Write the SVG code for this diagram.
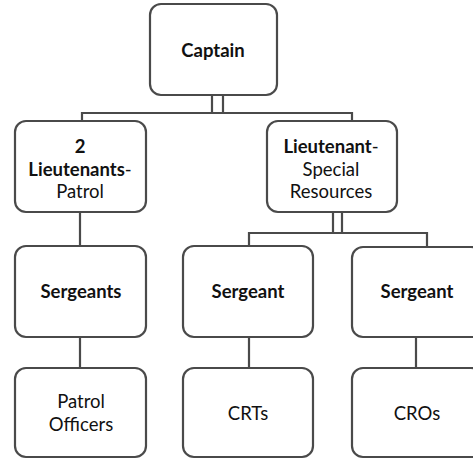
<svg xmlns="http://www.w3.org/2000/svg" width="473" height="460" viewBox="0 0 473 460">
<style>
.box{fill:#fff;stroke:#4a4a4a;stroke-width:2.2}
.ln{fill:none;stroke:#4a4a4a;stroke-width:2.2}
text{font-family:Lato,"Open Sans","Liberation Sans",sans-serif;font-size:18.5px;fill:#111;text-anchor:middle}
.b{font-weight:bold}
</style>
<rect width="473" height="460" fill="#fff"/>
<g id="connectors">
<path class="ln" d="M212,95V113M223,95V113"/>
<path class="ln" d="M82,121V113H352V121"/>
<path class="ln" d="M80,212V245M80,337V368"/>
<path class="ln" d="M333,212V233M342,212V233"/>
<path class="ln" d="M249,245V233H427V246"/>
<path class="ln" d="M249,337V368M416,337V368"/>
</g>
<g id="captain">
<rect class="box" x="150" y="4" width="127" height="91" rx="11"/>
<text class="b" x="213" y="57">Captain</text>
</g>
<g id="lt-patrol">
<rect class="box" x="15" y="121" width="131" height="91" rx="11"/>
<text class="b" x="80" y="153">2</text>
<text x="80" y="176"><tspan class="b">Lieutenants</tspan>-</text>
<text x="80" y="198">Patrol</text>
</g>
<g id="lt-special">
<rect class="box" x="267" y="121" width="130" height="91" rx="11"/>
<text x="331" y="153"><tspan class="b">Lieutenant</tspan>-</text>
<text x="331" y="176">Special</text>
<text x="331" y="198">Resources</text>
</g>
<g id="sergeants">
<rect class="box" x="15" y="246" width="131" height="91" rx="11"/>
<text class="b" x="81" y="298">Sergeants</text>
</g>
<g id="sergeant-crt">
<rect class="box" x="183" y="246" width="130" height="91" rx="11"/>
<text class="b" x="248" y="298">Sergeant</text>
</g>
<g id="sergeant-cro">
<rect class="box" x="352" y="247" width="130" height="90" rx="11"/>
<text class="b" x="417" y="298">Sergeant</text>
</g>
<g id="patrol-officers">
<rect class="box" x="15" y="368" width="131" height="89" rx="11"/>
<text x="81" y="408">Patrol</text>
<text x="81" y="431">Officers</text>
</g>
<g id="crts">
<rect class="box" x="183" y="368" width="130" height="89" rx="11"/>
<text x="248" y="420">CRTs</text>
</g>
<g id="cros">
<rect class="box" x="352" y="368" width="130" height="89" rx="11"/>
<text x="417" y="420">CROs</text>
</g>
</svg>
